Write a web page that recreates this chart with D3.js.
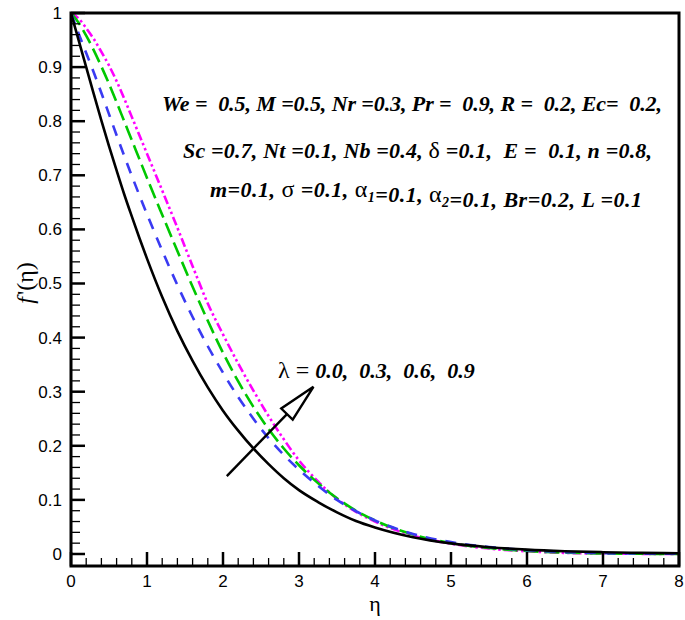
<!DOCTYPE html>
<html>
<head>
<meta charset="utf-8">
<script src="https://cdn.jsdelivr.net/npm/d3@7"></script>
<style>
  html, body { margin: 0; padding: 0; background: #fff; }
  svg { display: block; }
  text { white-space: pre; }
</style>
</head>
<body>
<svg id="chart" width="685" height="620"></svg>
<script>
// ---------- data ----------
const eta = [0, 0.1, 0.2, 0.3, 0.4, 0.5, 0.6, 0.7, 0.8, 0.9, 1.0, 1.2, 1.4, 1.6, 1.8, 2.0, 2.2, 2.4, 2.6, 2.8, 3.0, 3.25, 3.5, 3.75, 4.0, 4.5, 5.0, 5.5, 6.0, 6.5, 7.0, 7.5, 8.0];
const lambda00 = [1, 0.95, 0.90, 0.85, 0.801, 0.754, 0.709, 0.665, 0.624, 0.584, 0.546, 0.475, 0.412, 0.357, 0.308, 0.265, 0.228, 0.195, 0.166, 0.14, 0.118, 0.096, 0.077, 0.061, 0.049, 0.031, 0.0196, 0.0126, 0.0081, 0.0052, 0.0033, 0.0021, 0.0013];
const lambda03 = [1, 0.962, 0.926, 0.89, 0.852, 0.813, 0.774, 0.736, 0.699, 0.663, 0.628, 0.561, 0.497, 0.438, 0.384, 0.335, 0.29, 0.25, 0.214, 0.183, 0.156, 0.126, 0.1, 0.079, 0.062, 0.037, 0.022, 0.013, 0.007, 0.0035, 0.0015, 0.0007, 0.0003];
const lambda06 = [1, 0.982, 0.958, 0.931, 0.901, 0.869, 0.835, 0.8, 0.765, 0.73, 0.695, 0.627, 0.56, 0.494, 0.431, 0.372, 0.319, 0.272, 0.231, 0.195, 0.164, 0.131, 0.103, 0.08, 0.062, 0.036, 0.02, 0.011, 0.0055, 0.0025, 0.001, 0.0004, 0];
const lambda09 = [1, 0.99, 0.972, 0.952, 0.928, 0.903, 0.874, 0.842, 0.808, 0.774, 0.74, 0.672, 0.603, 0.532, 0.463, 0.406, 0.352, 0.302, 0.255, 0.212, 0.173, 0.134, 0.102, 0.078, 0.06, 0.034, 0.019, 0.01, 0.005, 0.002, 0.0008, 0.0003, 0];

const seriesNames = ["λ = 0.0", "λ = 0.3", "λ = 0.6", "λ = 0.9"];
const seriesValues = [lambda00, lambda03, lambda06, lambda09];
const xTickLabels = ["0", "1", "2", "3", "4", "5", "6", "7", "8"];
const yTickLabels = ["0", "0.1", "0.2", "0.3", "0.4", "0.5", "0.6", "0.7", "0.8", "0.9", "1"];
const paramLines = [
  "We =  0.5, M =0.5, Nr =0.3, Pr =  0.9, R =  0.2, Ec=  0.2,",
  "Sc =0.7, Nt =0.1, Nb =0.4, δ =0.1,  E =  0.1, n =0.8,",
  "m=0.1, σ =0.1, α1=0.1, α2=0.1, Br=0.2, L =0.1"
];
const lambdaLabel = "0.0, 0.3, 0.6, 0.9";
// arrow (in data units): tail and tip
const arrowTail = [2.05, 0.144];
const arrowTip = [3.19, 0.309];

// ---------- styles ----------
const styles = [
  { color: "#000000", dash: null, width: 2.6 },
  { color: "#3a3af2", dash: "11,9", width: 2.6 },
  { color: "#00c800", dash: "15,6", width: 2.6 },
  { color: "#ff00ff", dash: "9,3,2.5,3,2.5,3", width: 2.6 }
];

const svg = d3.select("#chart");
const L = 71, R = 679, T = 13, B = 566;
const x = d3.scaleLinear().domain([0, 8]).range([L, R]);
const y = d3.scaleLinear().domain([-0.0222, 1]).range([B, T]);

svg.append("defs").append("clipPath").attr("id", "clip")
  .append("rect").attr("x", L).attr("y", T).attr("width", R - L).attr("height", B - T);

// ---------- curves ----------
const line = d3.line().x(d => x(d[0])).y(d => y(d[1])).curve(d3.curveMonotoneX);
const gCurves = svg.append("g").attr("clip-path", "url(#clip)");
seriesValues.slice().reverse().forEach((vals, k) => {
  const i = seriesValues.length - 1 - k;
  const pts = eta.map((e, j) => [e, vals[j]]);
  gCurves.append("path")
    .datum(pts)
    .attr("d", line)
    .attr("fill", "none")
    .attr("stroke", styles[i].color)
    .attr("stroke-width", styles[i].width)
    .attr("stroke-dasharray", styles[i].dash)
    .attr("stroke-linejoin", "round")
    .attr("stroke-linecap", "butt")
    .attr("data-name", seriesNames[i]);
});

// ---------- frame, then ticks on top ----------
svg.append("rect").attr("x", L).attr("y", T).attr("width", R - L).attr("height", B - T)
  .attr("fill", "none").attr("stroke", "#000").attr("stroke-width", 3);

const xMajor = xTickLabels.map(Number);
const xMinor = d3.range(0, 8.0001, 0.2).filter(v => Math.abs(v - Math.round(v)) > 1e-6);
const yMajor = yTickLabels.map(Number);
const yMinor = d3.range(0, 1.0001, 0.02).filter(v => Math.abs(v * 10 - Math.round(v * 10)) > 1e-6);

xMinor.forEach(v => svg.append("line").attr("x1", x(v)).attr("x2", x(v)).attr("y1", B).attr("y2", B - 8).attr("stroke", "#000").attr("stroke-width", 1.3));
xMajor.forEach(v => svg.append("line").attr("x1", x(v)).attr("x2", x(v)).attr("y1", B).attr("y2", B - 14).attr("stroke", "#000").attr("stroke-width", 2.5));
yMinor.forEach(v => svg.append("line").attr("y1", y(v)).attr("y2", y(v)).attr("x1", L).attr("x2", L + 9).attr("stroke", "#000").attr("stroke-width", 1.3));
yMajor.forEach(v => svg.append("line").attr("y1", y(v)).attr("y2", y(v)).attr("x1", L).attr("x2", L + 14).attr("stroke", "#000").attr("stroke-width", 2.5));

// ---------- tick labels ----------
const sans = "'Liberation Sans', Arial, sans-serif";
svg.append("g").selectAll("text").data(xMajor).join("text")
  .attr("x", d => x(d)).attr("y", 587).attr("text-anchor", "middle")
  .attr("font-family", sans).attr("font-size", 17).text((d, i) => xTickLabels[i]);
svg.append("g").selectAll("text").data(yMajor).join("text")
  .attr("x", 62).attr("y", d => y(d) + 6).attr("text-anchor", "end")
  .attr("font-family", sans).attr("font-size", 17).text((d, i) => yTickLabels[i]);

// ---------- axis titles ----------
const serif = "'Liberation Serif', 'Times New Roman', serif";
svg.append("text").attr("x", (L + R) / 2).attr("y", 611).attr("text-anchor", "middle")
  .attr("font-family", serif).attr("font-size", 22).text("η");

const yt = svg.append("text").attr("transform", "translate(33,283) rotate(-90)").attr("text-anchor", "middle")
  .attr("font-family", serif).attr("font-size", 24);
yt.append("tspan").attr("font-style", "italic").text("f");
yt.append("tspan").attr("dx", 2).text("'(η)");

// ---------- parameter block ----------
const paramPos = [[162, 111], [183, 158], [210, 197]];
const paramWidth = [500, 469, 432];
paramLines.forEach((ln, i) => {
  const t = svg.append("text").attr("x", paramPos[i][0]).attr("y", paramPos[i][1])
    .attr("font-family", serif).attr("font-size", 22).attr("font-weight", "bold").attr("font-style", "italic")
    .attr("textLength", paramWidth[i]).attr("lengthAdjust", "spacing");
  const parts = ln.split(/(δ|σ|α1|α2)/);
  parts.forEach(p => {
    if (p === "δ" || p === "σ") {
      t.append("tspan").attr("font-style", "normal").attr("font-weight", "normal").attr("font-size", 24).text(p);
    } else if (p === "α1" || p === "α2") {
      t.append("tspan").attr("font-style", "normal").attr("font-weight", "normal").attr("font-size", 24).text("α");
      t.append("tspan").attr("font-size", 14).attr("dy", 5).text(p[1]);
      t.append("tspan").attr("dy", -5).text("");
    } else if (p.length) {
      t.append("tspan").text(p);
    }
  });
});

// ---------- lambda annotation ----------
const lt = svg.append("text").attr("x", 278).attr("y", 378).attr("font-family", serif).attr("font-size", 22);
lt.append("tspan").attr("font-size", 24).text("λ = ");
lt.append("tspan").attr("font-weight", "bold").attr("font-style", "italic").text(lambdaLabel.replace(/, /g, ",  "));

// arrow
const tx = x(arrowTail[0]), ty = y(arrowTail[1]);
const hx = x(arrowTip[0]), hy = y(arrowTip[1]);
const ang = Math.atan2(hy - ty, hx - tx);
const headLen = 38, headHalf = 8;
const bx = hx - headLen * Math.cos(ang), by = hy - headLen * Math.sin(ang);
const px = -Math.sin(ang), py = Math.cos(ang);
svg.append("line").attr("x1", tx).attr("y1", ty).attr("x2", bx).attr("y2", by)
  .attr("stroke", "#000").attr("stroke-width", 2.4);
svg.append("path")
  .attr("d", `M${hx},${hy}L${bx + px * headHalf},${by + py * headHalf}L${bx - px * headHalf},${by - py * headHalf}Z`)
  .attr("fill", "#fff").attr("stroke", "#000").attr("stroke-width", 2.4).attr("stroke-linejoin", "miter");
</script>
</body>
</html>
